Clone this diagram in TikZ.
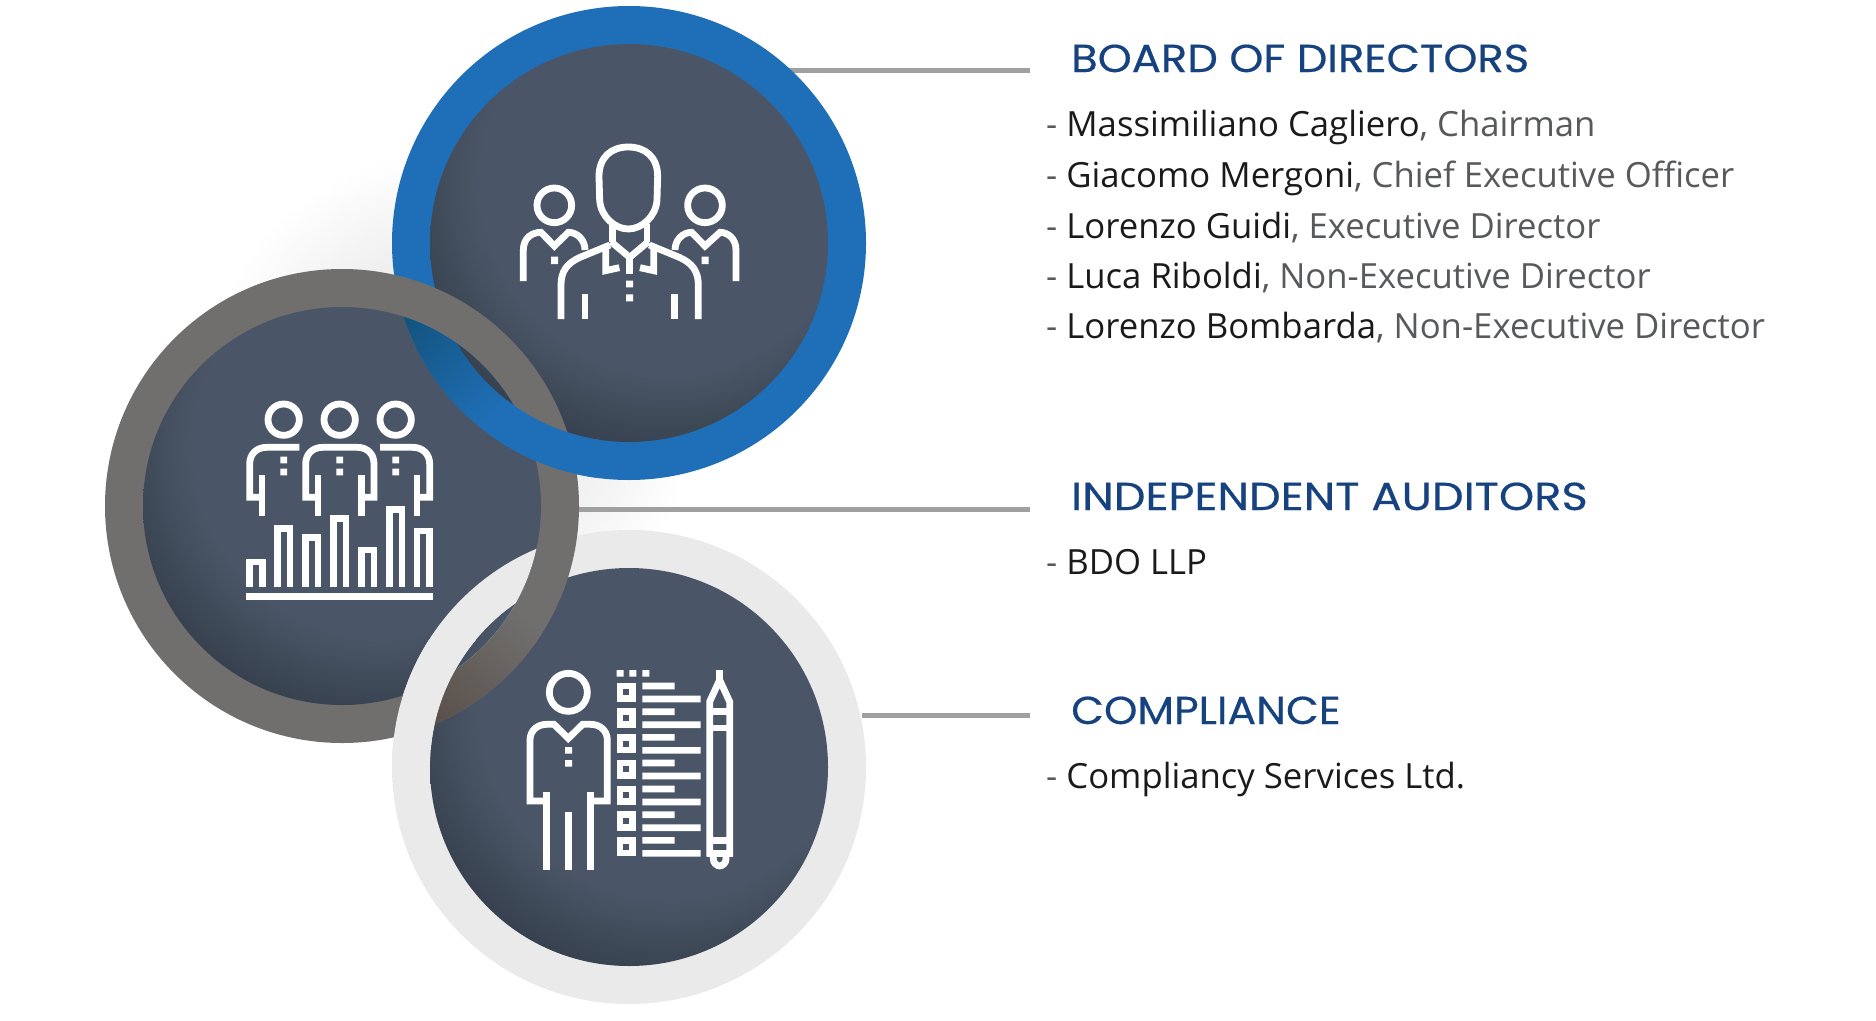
\documentclass[tikz,border=0pt]{standalone}
\usepackage{fontspec}
\setmainfont{Open Sans}
\newfontfamily\hfont[FakeStretch=1.11,FakeBold=0.4]{Poppins}
\definecolor{ringB}{HTML}{1F6FB8}
\definecolor{ringBd}{HTML}{13547F}
\definecolor{ringG}{HTML}{706F6E}
\definecolor{ringGd}{HTML}{5B524C}
\definecolor{ringL}{HTML}{EAEAEA}
\definecolor{discA}{HTML}{4A5667}
\definecolor{discB}{HTML}{353F4C}
\definecolor{navy}{HTML}{16427F}
\definecolor{rolegray}{HTML}{58595B}
\definecolor{namecol}{HTML}{1A1A1A}
\definecolor{linegray}{HTML}{A0A0A0}
\pgfdeclareradialshading{discshade}{\pgfpoint{0bp}{0bp}}{color(0bp)=(discA); color(17bp)=(discA); color(25bp)=(discB); color(50bp)=(discB)}
\newcommand{\outerR}{237}
\newcommand{\innerR}{199}
\newcommand{\darkdisc}[1]{\begin{scope}[shift={(#1)}]\clip (0,0) circle (\innerR);\shade[shading=discshade] (40,-60) circle (279);\end{scope}}
\tikzset{
  icon/.style={draw=white,line width=6.8pt,line cap=butt,line join=miter,fill=none},
  hdr/.style={anchor=base west,inner sep=0,text=navy,font=\hfont\fontsize{39}{44}\selectfont},
  entry/.style={anchor=base west,inner sep=0,text=namecol,font=\fontsize{34.7}{40}\selectfont},
  conn/.style={draw=linegray,line width=5},
  ringpath/.style={even odd rule},
}
\begin{document}
\begin{tikzpicture}[x=1pt,y=-1pt]
\useasboundingbox (0,0) rectangle (1876,1020);
\fill[white] (0,0) rectangle (1876,1020);
\coordinate (Bc) at (629,243);
\coordinate (Gc) at (342,506);
\coordinate (Lc) at (629,767);
% soft shadows
\shade[inner color=black!15,outer color=white] (450,400) circle (250);
% connectors
\coordinate (c1s) at (780,70);  \coordinate (c1e) at (1030,70);
\coordinate (c2s) at (560,509.5); \coordinate (c2e) at (1030,509.5);
\coordinate (c3s) at (862,715); \coordinate (c3e) at (1030,715);
\draw[conn] (c1s) -- (c1e);
\draw[conn] (c2s) -- (c2e);
% L and B discs
\fill[ringL] (Lc) circle (\outerR);
\darkdisc{Lc}
\fill[ringB] (Bc) circle (\outerR);
\darkdisc{Bc}
\draw[conn] (c3s) -- (c3e);
% G disc
\fill[ringG] (Gc) circle (\outerR);
% brown tint of the grey ring inside L disc
\begin{scope}
  \clip (Lc) circle (\innerR);
  \clip (Gc) circle (\outerR);
  \shade[top color=ringG,bottom color=ringGd,shading angle=-45] (425,600) rectangle (545,740);
\end{scope}
\darkdisc{Gc}
% what shows through the G disc
\begin{scope}
  \clip (Gc) circle (\innerR);
  \fill[ringB] (Bc) circle (\outerR);
  \begin{scope}
    \clip (Bc) circle (\outerR);
    \shade[top color=ringBd,bottom color=ringB,shading angle=45] (395,295) rectangle (525,425);
  \end{scope}
  \darkdisc{Bc}
  \fill[ringL] (Lc) circle (\outerR);
  \darkdisc{Lc}
\end{scope}
% rings passing over the grey ring
\begin{scope}
  \clip (500,400) rectangle (600,500);
  \fill[ringB,ringpath] (Bc) circle (\outerR) (Bc) circle (\innerR);
\end{scope}
\begin{scope}
  \clip (380,640) rectangle (480,760);
  \fill[ringL,ringpath] (Lc) circle (\outerR) (Lc) circle (\innerR);
\end{scope}
% icon 1
\begin{scope}[shift={(380,0)},scale=1/3]
\draw[icon] (657,530) .. controls (657,470) and (695,441) .. (745,441) .. controls (795,441) and (833,470) .. (833,530) -- (831,600) .. controls (828,650) and (785,687) .. (745,687) .. controls (705,687) and (662,650) .. (659,600) -- cycle;
\draw[icon] (698,672) -- (698,725) (801,672) -- (801,725);
\draw[icon] (693,725) -- (749,772) -- (805,725);
\draw[icon] (749,772) -- (749,822);
\draw[icon] (718,803) -- (677,812) -- (677,745);
\draw[icon] (780,803) -- (821,812) -- (821,745);
\draw[icon] (690,735) -- (600,772) .. controls (560,790) and (543,815) .. (543,855) -- (543,957);
\draw[icon] (808,735) -- (898,772) .. controls (938,790) and (955,815) .. (955,855) -- (955,957);
\draw[icon] (615,883) -- (615,957) (883,883) -- (883,957);
\fill[white] (738,842) rectangle (759,862) (738,883) rectangle (759,904);
\draw[icon] (523,616) circle (52) (975,616) circle (52);
\draw[icon] (430,843) -- (430,750) .. controls (430,715) and (455,697) .. (483,697) -- (523,738) -- (565,697) .. controls (592,697) and (615,720) .. (615,750);
\draw[icon] (1068,843) -- (1068,750) .. controls (1068,715) and (1043,697) .. (1020,697) -- (975,738) -- (935,697) .. controls (908,697) and (885,720) .. (885,750);
\fill[white] (513,770) rectangle (534,792) (965,770) rectangle (986,792);
\end{scope}
% icon 2
\begin{scope}[shift={(100,260)},scale=1/3]
\foreach \x in {551,719,887}{
  \draw[icon] (\x,479) circle (47);
  \fill[white] (\x-10,590) rectangle (\x+10,610) (\x-10,626) rectangle (\x+10,646);
}
\draw[icon] (598,562) -- (500,562) .. controls (470,562) and (449,582) .. (449,612) -- (449,712) -- (486,712);
\draw[icon] (486,645) -- (486,768);
\draw[icon] (654,645) -- (654,768) (784,645) -- (784,768);
\draw[icon] (654,712) -- (617,712) -- (617,612) .. controls (617,582) and (638,562) .. (668,562) -- (772,562) .. controls (802,562) and (822,582) .. (822,612) -- (822,712) -- (784,712);
\draw[icon] (840,562) -- (938,562) .. controls (968,562) and (989,582) .. (989,612) -- (989,712) -- (951,712);
\draw[icon] (951,645) -- (951,768);
\foreach \l/\t in {449/906,532/806,616/832,700/776,784/870,868/748,951/813}{
  \draw[icon] (\l,982) -- (\l,\t) -- (\l+38,\t) -- (\l+38,982);
}
\draw[icon] (439,1009) -- (999,1009);
\end{scope}
% icon 3
\begin{scope}[shift={(500,640)},scale=1/3]
\draw[icon] (205,157) circle (57);
\draw[icon] (139,457) -- (139,690) (272,457) -- (272,690) (205,515) -- (205,690);
\draw[icon] (139,483) -- (90,483) -- (90,300) .. controls (90,272) and (112,253) .. (140,253) -- (162,253) -- (205,295) -- (248,253) -- (272,253) .. controls (300,253) and (322,272) .. (322,300) -- (322,483) -- (272,483);
\fill[white] (195,321) rectangle (216,341) (195,360) rectangle (216,380);
\fill[white] (350,90) rectangle (371,110) (388,90) rectangle (409,110) (427,90) rectangle (448,110);
\foreach \y in {157,234,311,388,466,543,620}{
  \draw[icon] (360,\y-19) rectangle (398,\y+19);
  \fill[white] (427,\y-29) rectangle (524,\y-9) (427,\y+10) rectangle (602,\y+30);
}
\draw[icon] (659,90) -- (659,125);
\draw[icon] (629,650) -- (629,185) -- (659,120) -- (689,185) -- (689,650);
\draw[icon] (629,214) -- (689,214) (629,264) -- (689,264) (629,601) -- (689,601) (620,640) -- (698,640);
\draw[icon,rounded corners=7pt] (640,650) -- (640,678) -- (678,678) -- (678,650);
\end{scope}
% text
\node[hdr] (h1) at (1071,72) {BOARD OF DIRECTORS};
\node[entry] (e1) at (1046,136) {\textcolor{rolegray}{-} Massimiliano Cagliero\textcolor{rolegray}{, Chairman}};
\node[entry] (e2) at (1046,187) {\textcolor{rolegray}{-} Giacomo Mergoni\textcolor{rolegray}{, Chief Executive Officer}};
\node[entry] (e3) at (1046,238) {\textcolor{rolegray}{-} Lorenzo Guidi\textcolor{rolegray}{, Executive Director}};
\node[entry] (e4) at (1046,288.5) {\textcolor{rolegray}{-} Luca Riboldi\textcolor{rolegray}{, Non-Executive Director}};
\node[entry] (e5) at (1046,338.5) {\textcolor{rolegray}{-} Lorenzo Bombarda\textcolor{rolegray}{, Non-Executive Director}};
\node[hdr,xscale=1.036] (h2) at (1071,510) {INDEPENDENT AUDITORS};
\node[entry] (e6) at (1046,574.5) {\textcolor{rolegray}{-} BDO LLP};
\node[hdr,xscale=0.982] (h3) at (1071,724) {COMPLIANCE};
\node[entry] (e7) at (1046,788) {\textcolor{rolegray}{-} Compliancy Services Ltd.};
\end{tikzpicture}
\end{document}
